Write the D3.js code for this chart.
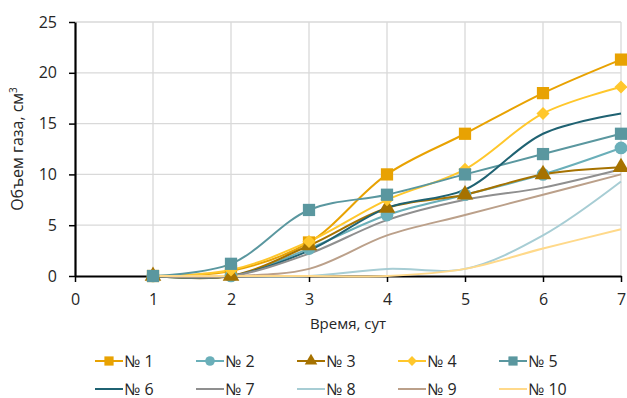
<!DOCTYPE html>
<html>
<head>
<meta charset="utf-8">
<script src="https://cdn.jsdelivr.net/npm/d3@7"></script>
<style>
html, body { margin:0; padding:0; background:#fff; width:627px; height:398px; overflow:hidden; }
svg { display:block; }
text { font-family: "Open Sans", "Noto Sans", sans-serif; }
</style>
</head>
<body>
<div id="chart"></div>
<script>
const days = [1,2,3,4,5,6,7]
const names = ['№ 1','№ 2','№ 3','№ 4','№ 5','№ 6','№ 7','№ 8','№ 9','№ 10']
const s1 = [0,0.5,3.3,10,14,18,21.3]
const s2 = [0,0,2.7,6,8,10,12.6]
const s3 = [0,0,3,6.7,8,10,10.7]
const s4 = [0,0.6,3.4,7.5,10.5,16,18.6]
const s5 = [0,1.2,6.5,8,10,12,14]
const s6 = [0,0,2.5,6.7,8.5,14,16]
const s7 = [0,0,2.2,5.5,7.5,8.7,10.5]
const s8 = [0,0,0,0.7,0.7,4,9.3]
const s9 = [0,0,0.7,4,6,8,10]
const s10 = [0,0,0,0,0.7,2.7,4.6]
const xTicks = [0,1,2,3,4,5,6,7]
const yTicks = [0,5,10,15,20,25]

const seriesValues = [s1,s2,s3,s4,s5,s6,s7,s8,s9,s10]
const colors = ['#E8A202','#6AAFB9','#A67200','#FFC72C','#5A979F','#1F6272','#8F8F8F','#A7CDD4','#BBA08A','#FFD98A']
const markers = ['square','circle','triangle','diamond','square',null,null,null,null,null]

const width = 627
const height = 398
const margin = { top:22, left:75, right:6, bottom:122 }
const innerWidth = width - margin.left - margin.right
const innerHeight = height - margin.top - margin.bottom

const svg = d3.select('#chart').append('svg')
  .attr('width', width).attr('height', height)
  .attr('viewBox', `0 0 ${width} ${height}`)

const xScale = d3.scaleLinear().domain([0,7]).range([margin.left, margin.left+innerWidth])
const yScale = d3.scaleLinear().domain([0,25]).range([margin.top+innerHeight, margin.top])

// grid
svg.append('g').selectAll('line').data(yTicks.filter(d=>d>0)).enter().append('line')
  .attr('x1', xScale(0)).attr('x2', xScale(7))
  .attr('y1', d=>yScale(d)).attr('y2', d=>yScale(d))
  .attr('stroke','#d9d9d9').attr('stroke-width',1.3)
svg.append('g').selectAll('line').data(xTicks.filter(d=>d>0)).enter().append('line')
  .attr('x1', d=>xScale(d)).attr('x2', d=>xScale(d))
  .attr('y1', yScale(0)).attr('y2', yScale(25))
  .attr('stroke','#d9d9d9').attr('stroke-width',1.3)

// axes
const xAxis = d3.axisBottom(xScale).tickValues(xTicks).tickFormat(d3.format('d')).tickSize(6).tickSizeOuter(0).tickPadding(12)
const yAxis = d3.axisLeft(yScale).tickValues(yTicks).tickFormat(d3.format('d')).tickSize(6).tickSizeOuter(0).tickPadding(12)

const xg = svg.append('g').attr('transform',`translate(0,${yScale(0)})`).call(xAxis)
const yg = svg.append('g').attr('transform',`translate(${xScale(0)},0)`).call(yAxis)
;[xg,yg].forEach(g=>{
  g.attr('font-size', null).attr('font-family', null)
  g.select('.domain').attr('stroke','#000').attr('stroke-width',2.2)
  g.selectAll('.tick line').attr('stroke','#000').attr('stroke-width',1.5)
  g.selectAll('.tick text').attr('fill','#262626').style('font-size','16px')
})

// lines
const line = d3.line()
  .x((d,i)=>xScale(days[i]))
  .y(d=>yScale(d))
  .curve(d3.curveCatmullRom.alpha(0.5))

seriesValues.forEach((vals,k)=>{
  svg.append('path').datum(vals)
    .attr('d', line).attr('fill','none')
    .attr('stroke', colors[k]).attr('stroke-width',2)
})

const diamond = { draw(ctx, size){ const r = Math.sqrt(size/2); ctx.moveTo(0,-r); ctx.lineTo(r,0); ctx.lineTo(0,r); ctx.lineTo(-r,0); ctx.closePath() } }
const symbolFor = (m, size)=>{
  if (m==='square') return d3.symbol(d3.symbolSquare, size)
  if (m==='circle') return d3.symbol(d3.symbolCircle, size*0.85)
  if (m==='triangle') return d3.symbol(d3.symbolTriangle, size*0.8)
  return d3.symbol(diamond, size*0.57)
}

seriesValues.forEach((vals,k)=>{
  if (!markers[k]) return
  svg.append('g').selectAll('path').data(vals).enter().append('path')
    .attr('d', symbolFor(markers[k], 150))
    .attr('transform',(d,i)=>`translate(${xScale(days[i])},${yScale(d)})`)
    .attr('fill', colors[k])
})

// axis titles
svg.append('text').text('Время, сут')
  .attr('x', (xScale(0)+xScale(7))/2).attr('y', 329)
  .attr('text-anchor','middle').attr('fill','#262626').style('font-size','15px')

const yt = svg.append('text')
  .attr('transform',`translate(23,${(yScale(0)+yScale(25))/2}) rotate(-90)`)
  .attr('text-anchor','middle').attr('fill','#262626').style('font-size','16px')
yt.append('tspan').text('Объем газа, см')
yt.append('tspan').text('3').attr('dy',-6).style('font-size','10px')

// legend
const legend = svg.append('g')
names.forEach((n,k)=>{
  const col = k % 5, row = Math.floor(k/5)
  const lx = 95 + col*101, ly = 361 + row*28
  const g = legend.append('g').attr('transform',`translate(${lx},${ly})`)
  g.append('line').attr('x1',0).attr('x2',28).attr('y1',0).attr('y2',0)
    .attr('stroke',colors[k]).attr('stroke-width',2)
  if (markers[k]) g.append('path').attr('d', symbolFor(markers[k], 85)).attr('transform','translate(14,0)').attr('fill',colors[k])
  g.append('text').text(n).attr('x',29).attr('y',6)
    .attr('fill','#262626').style('font-size','16px')
})
</script>
</body>
</html>
